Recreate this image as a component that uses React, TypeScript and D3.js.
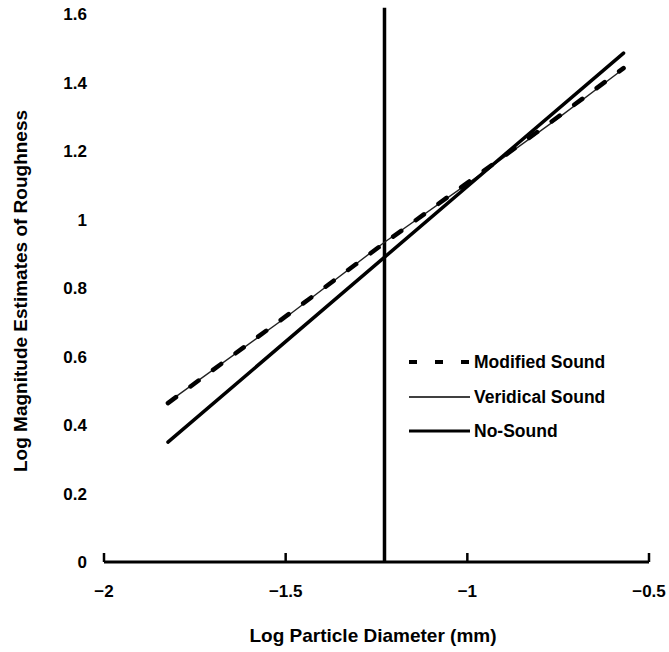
import * as d3 from 'd3'

// values
const xTicks = [-2, -1.5, -1, -0.5]
const xTickLabels = ['\u22122', '\u22121.5', '\u22121', '\u22120.5']
const yTicks = [0, 0.2, 0.4, 0.6, 0.8, 1, 1.2, 1.4, 1.6]
const yTickLabels = ['0', '0.2', '0.4', '0.6', '0.8', '1', '1.2', '1.4', '1.6']

const diameters = [-1.824, -1.5, -1.23, -1.0, -0.75, -0.57]
const modifiedSound = [0.464, 0.717, 0.93, 1.107, 1.3, 1.442]
const veridicalSound = [0.466, 0.714, 0.932, 1.104, 1.296, 1.44]
const noSoundX = [-1.824, -0.57]
const noSound = [0.35, 1.486]

// vertical reference line
const refX = -1.228
const refTop = 1.618

const W = 669
const H = 652
const font = 'Liberation Sans, Arial, sans-serif'

export default function App() {
  const x = d3.scaleLinear().domain([-2, -0.5]).range([104, 649])
  const y = d3.scaleLinear().domain([0, 1.6]).range([562, 14])

  const line = d3
    .line<[number, number]>()
    .x((d) => x(d[0]))
    .y((d) => y(d[1]))

  const mod = line(diameters.map((d, i) => [d, modifiedSound[i]]))
  const ver = line(diameters.map((d, i) => [d, veridicalSound[i]]))
  const nos = line(noSoundX.map((d, i) => [d, noSound[i]]))

  const legend = [
    { label: 'Modified Sound', w: 4, dash: '8 18', dy: 362 },
    { label: 'Veridical Sound', w: 1.4, dash: null, dy: 397 },
    { label: 'No-Sound', w: 3, dash: null, dy: 431 },
  ]

  return (
    <svg
      width={W}
      height={H}
      style={{ position: 'absolute', left: 0, top: 0, background: '#fff' }}
      fontFamily={font}
    >
      {/* reference line */}
      <line x1={x(refX)} x2={x(refX)} y1={y(0)} y2={y(refTop)} stroke="#000" strokeWidth={3.5} />

      {/* series */}
      <path d={ver ?? ''} fill="none" stroke="#222" strokeWidth={1.4} />
      <path d={mod ?? ''} fill="none" stroke="#000" strokeWidth={4.5} strokeDasharray="10 18" strokeLinecap="round" />
      <path d={nos ?? ''} fill="none" stroke="#000" strokeWidth={3.5} strokeLinecap="round" />

      {/* x axis */}
      <line x1={x(-2)} x2={x(-0.5)} y1={y(0)} y2={y(0)} stroke="#000" strokeWidth={3} />
      {xTicks.map((t, i) => (
        <g key={t}>
          <line x1={x(t)} x2={x(t)} y1={y(0)} y2={y(0) - 9} stroke="#000" strokeWidth={2.5} />
          <text x={x(t)} y={597} textAnchor="middle" fontSize={17} fontWeight="bold">
            {xTickLabels[i]}
          </text>
        </g>
      ))}

      {/* y labels (no axis line) */}
      {yTicks.map((t, i) => (
        <text key={t} x={87} y={y(t) + 6} textAnchor="end" fontSize={17} fontWeight="bold">
          {yTickLabels[i]}
        </text>
      ))}

      <text x={373} y={642} textAnchor="middle" fontSize={19} fontWeight="bold">
        Log Particle Diameter (mm)
      </text>
      <text
        transform={`translate(27,291) rotate(-90)`}
        textAnchor="middle"
        fontSize={19}
        fontWeight="bold"
      >
        Log Magnitude Estimates of Roughness
      </text>

      {/* legend */}
      {legend.map((l) => (
        <g key={l.label}>
          <line
            x1={409}
            x2={470}
            y1={l.dy}
            y2={l.dy}
            stroke="#000"
            strokeWidth={l.w}
            strokeDasharray={l.dash ?? undefined}
          />
          <text x={474} y={l.dy + 6} fontSize={17.5} fontWeight="bold">
            {l.label}
          </text>
        </g>
      ))}
    </svg>
  )
}
